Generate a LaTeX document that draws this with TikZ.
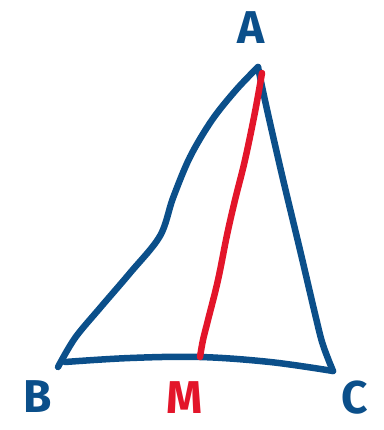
\documentclass[tikz,border=0pt]{standalone}
\usepackage{fontspec}
\setsansfont{Fira Sans}
\definecolor{penblue}{HTML}{0B4F8A}
\definecolor{penred}{HTML}{E3152A}
\begin{document}
\begin{tikzpicture}[x=1pt,y=-1pt,
  pen/.style={line width=6.5pt,line cap=round,line join=round},
  lbl/.style={font=\sffamily\bfseries\fontsize{46}{46}\selectfont,inner sep=0pt}]
\useasboundingbox (0,0) rectangle (383,430);
\coordinate (A) at (258,67);
\coordinate (B) at (58,367);
\coordinate (C) at (333,371);
\coordinate (M) at (200,357);
% left edge A-B
\draw[pen,penblue] plot[smooth,tension=0.55] coordinates {(A) (236,90) (212,120) (190,157) (173,198) (160,236) (130,273) (100,308) (75,338) (B)};
% right edge A-C
\draw[pen,penblue] plot[smooth,tension=0.6] coordinates {(A) (266,105) (282,175) (300,250) (316,318) (323,345) (C)};
% bottom B-C
\draw[pen,penblue] plot[smooth,tension=0.6] coordinates {(65,362) (130,358) (M) (270,362) (C)};
% median A-M
\draw[pen,penred] plot[smooth,tension=0.6] coordinates {(262,73) (255,112) (245,160) (235,200) (227,235) (218,280) (208,320) (203,340) (M)};
\node[lbl,text=penblue] (lA) at (251,28) {A};
\node[lbl,text=penblue] (lB) at (38,397) {B};
\node[lbl,text=penred] (lM) at (185,398) {M};
\node[lbl,text=penblue] (lC) at (355,398) {C};
\end{tikzpicture}
\end{document}
